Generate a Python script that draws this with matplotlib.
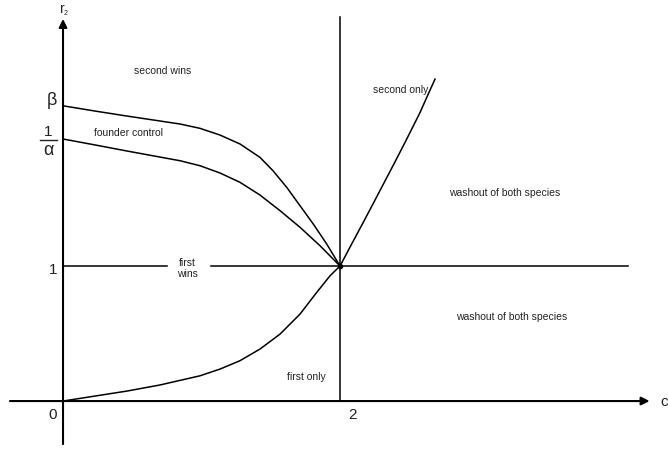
import matplotlib
matplotlib.use("Agg")
import matplotlib.pyplot as plt

plt.rcParams['font.family'] = ['Liberation Sans', 'DejaVu Sans']

# boundary curves in the (c, r2) plane
beta_c = [0.0, 0.231, 0.462, 0.845, 0.989, 1.134, 1.278, 1.422, 1.516, 1.615,
          1.711, 1.807, 1.904, 2.0]
beta_r = [2.187, 2.148, 2.111, 2.052, 2.020, 1.970, 1.904, 1.805, 1.706, 1.583,
          1.447, 1.311, 1.163, 1.0]

alpha_c = [0.0, 0.231, 0.462, 0.845, 0.989, 1.134, 1.278, 1.422, 1.567, 1.711,
           1.856, 2.0]
alpha_r = [1.941, 1.897, 1.852, 1.780, 1.743, 1.689, 1.620, 1.526, 1.410, 1.287,
           1.150, 1.0]

first_c = [0.0, 0.231, 0.462, 0.7, 0.989, 1.134, 1.278, 1.422, 1.567, 1.711,
           1.832, 1.928, 2.0]
first_r = [0.0, 0.037, 0.074, 0.119, 0.187, 0.237, 0.299, 0.385, 0.496, 0.644,
           0.805, 0.928, 1.0]

second_c = [2.0, 2.084, 2.168, 2.240, 2.313, 2.385, 2.457, 2.518, 2.578, 2.637, 2.686]
second_r = [1.0, 1.163, 1.324, 1.464, 1.607, 1.748, 1.891, 2.015, 2.138, 2.274, 2.385]

region_labels = ["second wins", "founder control", "first\nwins", "first only",
                 "second only", "washout of both species", "washout of both species"]
region_pos = [(0.72, 2.45), (0.47, 1.99), (0.895, 0.99), (1.755, 0.185),
              (2.435, 2.31), (3.19, 1.55), (3.24, 0.63)]

fig = plt.figure(figsize=(6.68, 4.52), dpi=100)
ax = fig.add_axes([0, 0, 1, 1])
ax.set_xlim(-0.455, 4.368)
ax.set_ylim(-0.370, 2.978)
ax.axis('off')

# axes with arrow heads
ax.annotate("", xy=(4.235, 0), xytext=(-0.383, 0),
            arrowprops=dict(arrowstyle="-|>", lw=1.5, color="black",
                            mutation_scale=12, shrinkA=0, shrinkB=0))
ax.annotate("", xy=(0, 2.83), xytext=(0, -0.319),
            arrowprops=dict(arrowstyle="-|>", lw=1.5, color="black",
                            mutation_scale=12, shrinkA=0, shrinkB=0))

# r2 = 1 line with a gap for the label, and c = 2 line
ax.plot([0, 0.751], [1, 1], color="black", lw=1.1)
ax.plot([1.069, 4.08], [1, 1], color="black", lw=1.1)
ax.plot([2, 2], [0, 2.844], color="black", lw=1.1)

for cs, rs in [(beta_c, beta_r), (alpha_c, alpha_r), (first_c, first_r), (second_c, second_r)]:
    ax.plot(cs, rs, color="black", lw=1.1, solid_joinstyle="round")
ax.plot([2], [1], "o", color="black", ms=3)

for txt, (x, y) in zip(region_labels, region_pos):
    ax.text(x, y, txt, ha="center", va="center", fontsize=7.5, color="#222222",
            linespacing=1.1)

# tick labels
ax.text(-0.072, -0.096, "0", ha="center", va="center", fontsize=11, color="#222222")
ax.text(-0.072, 0.98, "1", ha="center", va="center", fontsize=11, color="#222222")
ax.text(2.09, -0.096, "2", ha="center", va="center", fontsize=11, color="#222222")
ax.text(-0.079, 2.23, "β", ha="center", va="center", fontsize=13, color="#222222")
# 1/alpha written as a stacked fraction
ax.text(-0.105, 2.0, "1", ha="center", va="center", fontsize=11, color="#222222")
ax.plot([-0.166, -0.043], [1.933, 1.933], color="#222222", lw=1.0)
ax.text(-0.105, 1.862, "α", ha="center", va="center", fontsize=13, color="#222222")
ax.text(-0.007, 2.915, "r", ha="center", va="center", fontsize=10, color="#222222")
ax.text(0.022, 2.875, "2", ha="center", va="center", fontsize=5, color="#222222")
ax.text(4.365, 0.0, "c", ha="right", va="center", fontsize=11, color="#222222")

fig.savefig("out.png", dpi=100)
